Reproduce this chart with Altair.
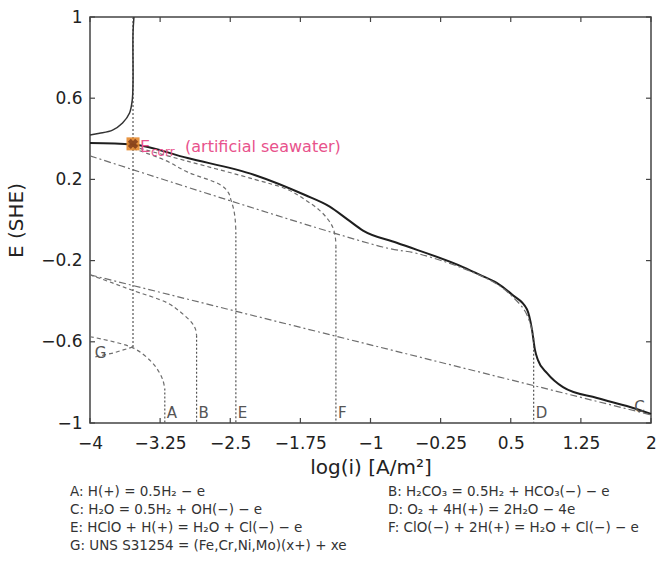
import altair as alt
import pandas as pd

# ---------------- data ----------------
x_ticks = [-4, -3.25, -2.5, -1.75, -1, -0.25, 0.5, 1.25, 2]
y_ticks = [1, 0.6, 0.2, -0.2, -0.6, -1]

# total cathodic polarisation curve (sum of the partial reactions)
total_logi = [-4.0, -3.545, -2.956, -2.24, -1.70, -1.436, -1.243, -1.08, -0.72, -0.01,
              0.17, 0.35, 0.52, 0.673, 0.727, 0.759, 0.791, 0.888, 1.059, 1.423, 1.776, 2.0]
total_E = [0.379, 0.372, 0.305, 0.222, 0.123, 0.066, 0.002, -0.052, -0.112, -0.232,
           -0.27, -0.31, -0.37, -0.44, -0.54, -0.64, -0.69, -0.754, -0.823, -0.877, -0.921, -0.955]

# total anodic curve of the alloy
anodic_logi = [-4.0, -3.898, -3.759, -3.652, -3.577, -3.548, -3.54, -3.54, -3.53]
anodic_E = [0.419, 0.427, 0.443, 0.478, 0.527, 0.591, 0.675, 0.921, 1.0]

# partial reactions (Tafel / transition part)
A_logi = [-4.0, -3.54, -3.34, -3.26, -3.22, -3.2]
A_E = [-0.575, -0.63, -0.70, -0.75, -0.79, -0.83]
B_logi = [-4.0, -3.76, -3.555, -3.17, -3.02, -2.91, -2.87, -2.86]
B_E = [-0.27, -0.31, -0.345, -0.409, -0.458, -0.507, -0.54, -0.57]
C_logi = [-4.0, 2.0]
C_E = [-0.27, -0.96]
D_logi = [-4.0, -0.87, -0.5, -0.01, 0.35, 0.52, 0.65, 0.715, 0.745]
D_E = [0.316, -0.133, -0.165, -0.238, -0.315, -0.378, -0.447, -0.52, -0.58]
E_logi = [-3.54, -3.2, -2.956, -2.6, -2.52, -2.49, -2.46, -2.445, -2.44]
E_E = [0.352, 0.295, 0.236, 0.172, 0.135, 0.095, 0.045, -0.01, -0.06]
F_logi = [-3.54, -2.96, -2.24, -1.885, -1.70, -1.55, -1.45, -1.40, -1.375, -1.37]
F_E = [0.362, 0.29, 0.20, 0.15, 0.10, 0.05, 0.0, -0.04, -0.09, -0.13]
G_logi = [-3.54, -3.75, -3.95]
G_E = [-0.625, -0.655, -0.675]

# limiting-current (vertical) parts
vert_logi = [-3.2, -2.86, -2.44, -1.37, 0.745, -3.54]
vert_top = [-0.83, -0.57, -0.06, -0.13, -0.58, 1.0]
vert_bottom = [-1.0, -1.0, -1.0, -1.0, -1.0, -0.625]

# curve labels
label_text = ["A", "B", "C", "D", "E", "F", "G"]
label_logi = [-3.2, -2.86, 1.8, 0.745, -2.44, -1.37, -3.97]
label_E = [-0.975, -0.975, -0.946, -0.975, -0.975, -0.975, -0.68]

# corrosion potential
ecorr_logi = [-3.54]
ecorr_E = [0.375]

legend_left = [
    "A: H(+) = 0.5H₂ − e",
    "C: H₂O = 0.5H₂ + OH(−) − e",
    "E: HClO + H(+) = H₂O + Cl(−) − e",
    "G: UNS S31254 = (Fe,Cr,Ni,Mo)(x+) + xe",
]
legend_right = [
    "B: H₂CO₃ = 0.5H₂ + HCO₃(−) − e",
    "D: O₂ + 4H(+) = 2H₂O − 4e",
    "F: ClO(−) + 2H(+) = H₂O + Cl(−) − e",
]

# ---------------- chart ----------------
W, H = 561, 406
FONT = "DejaVu Sans"
AXIS_COLOR = "#444444"
CURVE_GRAY = "#6e6e6e"

xs = alt.Scale(domain=[-4, 2], nice=False, zero=False)
ys = alt.Scale(domain=[-1, 1], nice=False, zero=False)
X = alt.X("logi:Q", scale=xs,
          axis=alt.Axis(values=x_ticks, format=".3~g", title="log(i) [A/m²]", ticks=False,
                        tickSize=0, domain=False, grid=False, labelPadding=12,
                        labelFontSize=17, titleFontSize=20, titlePadding=6,
                        labelColor="#222", titleColor="#222", titleFontWeight="normal",
                        labelFont=FONT, titleFont=FONT, labelFlush=False))
Y = alt.Y("E:Q", scale=ys,
          axis=alt.Axis(values=y_ticks, format=".3~g", title="E (SHE)", ticks=False,
                        tickSize=0, domain=False, grid=False, labelPadding=8,
                        labelFontSize=17, titleFontSize=20, titlePadding=14,
                        labelColor="#222", titleColor="#222", titleFontWeight="normal",
                        labelFont=FONT, titleFont=FONT, labelFlush=False))
X2 = alt.X("logi:Q", scale=xs)
Y2 = alt.Y("E:Q", scale=ys)


def curve_df(logi, e):
    return pd.DataFrame({"logi": logi, "E": e, "i": range(len(logi))})


def dashed_curve(logi, e, dash, width=1.2, color=CURVE_GRAY, interp="catmull-rom"):
    return alt.Chart(curve_df(logi, e)).mark_line(
        color=color, strokeWidth=width, strokeDash=dash, interpolate=interp
    ).encode(x=X2, y=Y2, order="i:Q")


partials = [
    dashed_curve(C_logi, C_E, [7, 3, 2, 3], interp="linear"),
    dashed_curve(D_logi, D_E, [7, 3, 2, 3]),
    dashed_curve(A_logi, A_E, [4, 3]),
    dashed_curve(B_logi, B_E, [4, 3]),
    dashed_curve(E_logi, E_E, [4, 3]),
    dashed_curve(F_logi, F_E, [4, 3]),
    dashed_curve(G_logi, G_E, [4, 3], interp="linear"),
]

verticals = alt.Chart(pd.DataFrame({"logi": vert_logi, "E": vert_top, "E2": vert_bottom})).mark_rule(
    color="#555555", strokeWidth=1.2, strokeDash=[2, 2]
).encode(x=X2, y=Y2, y2="E2:Q")

total = alt.Chart(curve_df(total_logi, total_E)).mark_line(
    color="#1e1e1e", strokeWidth=2.0, interpolate="monotone"
).encode(x=X, y=Y, order="i:Q")

anodic = alt.Chart(curve_df(anodic_logi, anodic_E)).mark_line(
    color="#333333", strokeWidth=1.5, interpolate="catmull-rom"
).encode(x=X2, y=Y2, order="i:Q")

labels = alt.Chart(pd.DataFrame({"logi": label_logi, "E": label_E, "t": label_text})).mark_text(
    align="left", baseline="alphabetic", dx=2, font=FONT, fontSize=15, color="#555555"
).encode(x=X2, y=Y2, text="t:N")

ecorr_df = pd.DataFrame({"logi": ecorr_logi, "E": ecorr_E})
ecorr_sq = alt.Chart(ecorr_df).mark_square(size=170, color="#e58a2e", opacity=0.9).encode(x=X2, y=Y2)
ecorr_x = alt.Chart(ecorr_df).mark_point(
    shape="cross", angle=45, size=110, filled=True, color="#6a2a12"
).encode(x=X2, y=Y2)
PINK = "#e8528c"
ecorr_t1 = alt.Chart(ecorr_df).mark_text(
    text="E", align="left", baseline="middle", dx=7, dy=3, font=FONT, fontSize=16, color=PINK
).encode(x=X2, y=Y2)
ecorr_t2 = alt.Chart(ecorr_df).mark_text(
    text="corr", align="left", baseline="middle", dx=18, dy=8, font=FONT, fontSize=12, color=PINK
).encode(x=X2, y=Y2)
ecorr_t3 = alt.Chart(ecorr_df).mark_text(
    text="(artificial seawater)", align="left", baseline="middle", dx=52, dy=3,
    font=FONT, fontSize=16, color=PINK
).encode(x=X2, y=Y2)

# inward tick marks on all four sides
xt = pd.DataFrame({"logi": x_ticks})
yt = pd.DataFrame({"E": y_ticks})
tick_style = dict(color=AXIS_COLOR, strokeWidth=1.2)
ticks = [
    alt.Chart(xt).mark_rule(**tick_style).encode(x=X2, y=alt.value(H), y2=alt.value(H - 5)),
    alt.Chart(xt).mark_rule(**tick_style).encode(x=X2, y=alt.value(0), y2=alt.value(5)),
    alt.Chart(yt).mark_rule(**tick_style).encode(y=Y2, x=alt.value(0), x2=alt.value(5)),
    alt.Chart(yt).mark_rule(**tick_style).encode(y=Y2, x=alt.value(W - 5), x2=alt.value(W)),
]

# reaction key below the plot
legend_layers = []
row_y = [475, 493, 511, 529]
for k, txt in enumerate(legend_left):
    legend_layers.append(
        alt.Chart(ecorr_df).mark_text(
            text=txt, align="left", baseline="middle", font=FONT, fontSize=13.5, color="#333333"
        ).encode(x=alt.value(-20), y=alt.value(row_y[k]))
    )
for k, txt in enumerate(legend_right):
    legend_layers.append(
        alt.Chart(ecorr_df).mark_text(
            text=txt, align="left", baseline="middle", font=FONT, fontSize=13.5, color="#333333"
        ).encode(x=alt.value(298), y=alt.value(row_y[k]))
    )

chart = alt.layer(
    total, *partials, verticals, anodic, *ticks, labels,
    ecorr_sq, ecorr_x, ecorr_t1, ecorr_t2, ecorr_t3, *legend_layers
).properties(
    width=W, height=H,
    autosize=alt.AutoSizeParams(type="none"),
    padding={"left": 90, "top": 17, "right": 7, "bottom": 150},
    background="white",
).configure_view(
    stroke=AXIS_COLOR, strokeWidth=1.5
)

chart.save("out.html", embed_options={"renderer": "svg", "actions": False})
